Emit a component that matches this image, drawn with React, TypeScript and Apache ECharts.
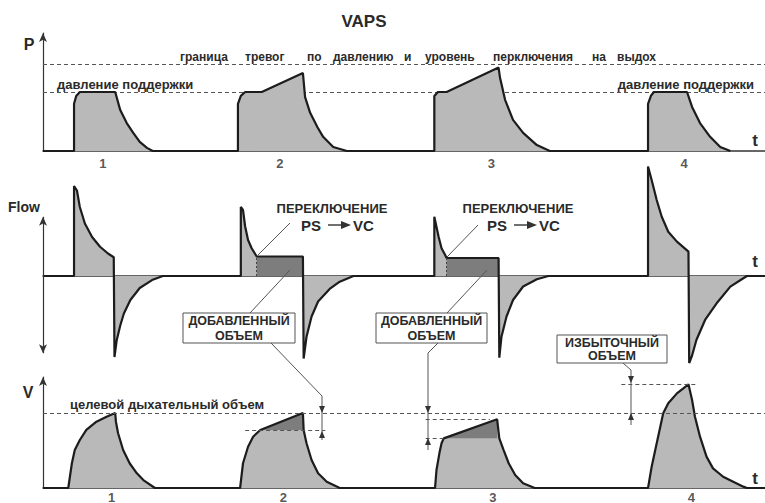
import React, { useEffect, useRef } from "react";
import * as echarts from "echarts";

// ---------- data (time in s, pressure in cmH2O, flow in L/min, volume in mL) ----------
const TIME_MIN = 0;
const TIME_MAX = 10;

const supportPressure = 15;
const alarmPressure = 22;

const pressureCycle1 = [[0.43, 0], [0.43, 12], [0.46, 14], [0.51, 15], [1.0, 15], [1.07, 10.4], [1.16, 7.1], [1.25, 4.6], [1.34, 2.3], [1.44, 0.8], [1.52, 0]];
const pressureCycle2 = [[2.7, 0], [2.7, 12], [2.74, 14], [2.8, 15], [3.03, 15], [3.6, 19.8], [3.63, 13.7], [3.7, 9.7], [3.8, 6.1], [3.88, 3.6], [4.02, 1.0], [4.21, 0]];
const pressureCycle3 = [[5.42, 0], [5.42, 14], [5.47, 15], [5.59, 15], [6.31, 21.2], [6.33, 18.6], [6.4, 13], [6.51, 7.9], [6.65, 4.6], [6.84, 1.5], [7.02, 0]];
const pressureCycle4 = [[8.38, 0], [8.38, 12], [8.42, 14], [8.46, 15], [8.92, 15], [8.99, 11.2], [9.1, 7.1], [9.24, 3.6], [9.38, 1.0], [9.52, 0]];

const flowCycle1 = [[0.43, 0], [0.43, 60], [0.47, 57], [0.51, 46], [0.58, 35], [0.68, 26], [0.79, 19.5], [0.9, 15], [0.98, 12.5], [0.99, -54], [1.02, -43], [1.07, -33], [1.12, -25], [1.21, -16], [1.34, -8], [1.51, -2.7], [1.66, 0]];
const flowCycle2 = [[2.74, 0], [2.74, 46], [2.77, 44], [2.8, 33], [2.84, 24], [2.89, 18.5], [2.96, 13], [3.6, 13], [3.61, -55], [3.65, -40.5], [3.72, -27], [3.81, -17], [3.98, -8.2], [4.11, -3.8], [4.3, 0]];
const flowCycle3 = [[5.42, 0], [5.42, 39.5], [5.44, 35], [5.48, 26], [5.52, 18.5], [5.57, 14], [5.59, 12], [6.31, 12], [6.32, -54.5], [6.35, -40.5], [6.42, -27], [6.51, -16], [6.65, -7], [6.84, -2.2], [7.0, 0]];
const flowCycle4 = [[8.38, 0], [8.38, 73], [8.43, 64], [8.5, 50.7], [8.57, 39.5], [8.66, 29.5], [8.78, 22.9], [8.94, 16.2], [8.95, -58], [8.99, -53], [9.05, -42.7], [9.17, -29.3], [9.33, -18.2], [9.52, -7.1], [9.7, -1.5], [9.75, 0]];

// volume-controlled (VC) parts of the flow: [start, end, flow]
const flowVcParts = [[2.96, 3.6, 13], [5.59, 6.31, 12]];
const flowAxisArrow = [39.5, -51.5];

const targetVolume = 500;
const volumeCycle1 = [[0.35, 0], [0.4, 165], [0.44, 253], [0.51, 320], [0.6, 387], [0.74, 442], [0.88, 475], [1.0, 500], [1.01, 442], [1.04, 365], [1.11, 253], [1.2, 165], [1.3, 98], [1.39, 53], [1.55, 0]];
const volumeCycle2 = [[2.73, 0], [2.77, 165], [2.84, 275], [2.91, 342], [3.01, 387], [3.6, 500], [3.61, 387], [3.65, 298], [3.72, 187], [3.81, 98], [3.93, 42], [4.11, 0]];
const volumeCycle3 = [[5.43, 0], [5.45, 120], [5.49, 231], [5.52, 298], [5.55, 331], [6.29, 458], [6.32, 331], [6.38, 253], [6.45, 165], [6.54, 87], [6.65, 31], [6.81, 0]];
const volumeCycle4 = [[8.38, 0], [8.43, 142], [8.48, 253], [8.54, 387], [8.59, 498], [8.66, 565], [8.78, 631], [8.94, 691], [8.99, 587], [9.03, 475], [9.1, 342], [9.19, 209], [9.28, 131], [9.42, 75], [9.56, 42], [9.7, 9], [9.75, 0]];

// added volume (dark) triangles: [start, end, lower volume, upper volume]
const addedVolumes = [[3.01, 3.6, 387, 500], [5.55, 6.29, 331, 458]];
// short dashed reference levels on the volume panel: [start, end, volume]
const volumeLevels = [[2.8, 3.91, 387], [5.3, 6.19, 458], [5.3, 5.55, 331], [8.01, 9.05, 691]];

const cycleNames = ["1", "2", "3", "4"];
const cycleTimesP = [0.83, 3.28, 6.21, 8.88];
const cycleTimesV = [0.95, 3.33, 6.23, 8.98];

// ---------- styles ----------
const FONT = "'Liberation Sans', Arial, sans-serif";
const LIGHT = "#b9b9b9";
const DARK = "#7d7d7d";
const INK = "#1c1c1c";
const TEXT = "#2a2a2a";
const GUIDE = "#555555";

const pressureTrace = [[TIME_MIN, 0], ...pressureCycle1, ...pressureCycle2, ...pressureCycle3, ...pressureCycle4];
const flowTrace = [[TIME_MIN, 0], ...flowCycle1, ...flowCycle2, ...flowCycle3, ...flowCycle4, [TIME_MAX, 0]];
const volumeTrace = [[TIME_MIN, 0], ...volumeCycle1, ...volumeCycle2, ...volumeCycle3, ...volumeCycle4, [TIME_MAX, 0]];
const flowVcTrace = flowVcParts.flatMap(([a, b, f]) => [[a, 0], [a, f], [b, f], [b, 0]]);

function text(x: number, y: number, t: string, size: number, align = "left", extra: any = {}) {
  return {
    type: "text", x, y, z: 20,
    style: { text: t, fill: TEXT, font: `bold ${size}px ${FONT}`, align, verticalAlign: "middle", ...extra },
  };
}
function poly(points: number[][], z = 20) {
  return { type: "polyline", z, shape: { points }, style: { stroke: GUIDE, lineWidth: 1, fill: null } };
}
function tri(points: number[][]) {
  return { type: "polygon", z: 21, shape: { points }, style: { fill: "#333" } };
}
const down = (x: number, y: number) => tri([[x - 3, y - 7], [x + 3, y - 7], [x, y]]);
const up = (x: number, y: number) => tri([[x - 3, y + 7], [x + 3, y + 7], [x, y]]);
function box(x: number, y: number, w: number, h: number, l1: string, l2: string) {
  return [
    { type: "rect", z: 19, shape: { x, y, width: w, height: h }, style: { fill: "#fff", stroke: GUIDE, lineWidth: 1 } },
    text(x + w / 2, y + 8, l1, 12.5, "center"),
    text(x + w / 2, y + h - 7, l2, 12.5, "center"),
  ];
}
function psvc(dx: number) {
  return [
    text(332 + dx, 208, "ПЕРЕКЛЮЧЕНИЕ", 13, "center"),
    text(301 + dx, 225, "PS", 15),
    { type: "line", z: 20, shape: { x1: 328 + dx, y1: 225, x2: 342 + dx, y2: 225 }, style: { stroke: "#222", lineWidth: 1.3 } },
    tri([[341 + dx, 221], [341 + dx, 229], [351 + dx, 225]]),
    text(353 + dx, 225, "VC", 15),
  ];
}

const alarmWords = ["граница", "тревог", "по", "давлению", "и", "уровень", "перключения", "на", "выдох"];
const alarmWordX = [180, 245, 307, 333, 404, 425, 493, 592, 617];

export default function App() {
  const ref = useRef<HTMLDivElement>(null);
  useEffect(() => {
    if (!ref.current) return;
    const chart = echarts.init(ref.current, null, { renderer: "svg" });
    const hidden = { show: false };
    const xAxisBase = (gridIndex: number) => ({
      type: "value", gridIndex, min: TIME_MIN, max: TIME_MAX,
      axisLine: { show: true, onZero: true, lineStyle: { color: "#333", width: 1.5 } },
      axisTick: hidden, axisLabel: hidden, splitLine: hidden,
    });
    const yAxisBase = (gridIndex: number, min: number, max: number, arrow: boolean) => ({
      type: "value", gridIndex, min, max,
      axisLine: arrow
        ? { show: true, onZero: false, symbol: ["none", "arrow"], symbolSize: [6, 9], lineStyle: { color: "#333", width: 1.2 } }
        : { show: false },
      axisTick: hidden, axisLabel: hidden, splitLine: hidden,
    });
    const dashed = { color: GUIDE, width: 1, type: [4, 3] };

    const labelSeries = (idx: number, times: number[], dist: number) => ({
      type: "scatter", xAxisIndex: idx, yAxisIndex: idx, symbolSize: 1, silent: true,
      itemStyle: { color: "transparent" },
      data: times.map((t, i) => ({ value: [t, 0], label: { formatter: cycleNames[i] } })),
      label: { show: true, position: "bottom", distance: dist, color: TEXT, fontSize: 13, fontWeight: "bold", fontFamily: FONT },
    });

    const option: any = {
      animation: false,
      grid: [
        { left: 43, right: 0, top: 33, height: 118 },
        { left: 43, right: 0, top: 156, height: 210 },
        { left: 43, right: 0, top: 377, height: 111 },
      ],
      xAxis: [xAxisBase(0), xAxisBase(1), xAxisBase(2)],
      yAxis: [yAxisBase(0, 0, 30, true), yAxisBase(1, -60, 80, false), yAxisBase(2, 0, 740, true)],
      series: [
        // pressure reference lines (under fill)
        {
          type: "line", xAxisIndex: 0, yAxisIndex: 0, data: [], z: 1,
          markLine: {
            silent: true, symbol: "none", z: 1, label: { show: false }, lineStyle: dashed,
            data: [{ yAxis: alarmPressure }, { yAxis: supportPressure }],
          },
        },
        {
          type: "line", xAxisIndex: 0, yAxisIndex: 0, data: pressureTrace, symbol: "none", z: 2,
          lineStyle: { width: 0 }, areaStyle: { color: LIGHT, opacity: 1 }, silent: true,
        },
        {
          type: "line", xAxisIndex: 0, yAxisIndex: 0, data: pressureTrace, symbol: "none", z: 4,
          lineStyle: { color: INK, width: 2.2 }, silent: true,
        },
        // flow
        {
          type: "line", xAxisIndex: 1, yAxisIndex: 1, data: flowTrace, symbol: "none", z: 2, clip: false,
          lineStyle: { width: 0 }, areaStyle: { color: LIGHT, opacity: 1 }, silent: true,
          markLine: {
            silent: true, symbol: ["arrow", "arrow"], symbolSize: [6, 9], label: { show: false },
            lineStyle: { color: "#333", width: 1.2, type: "solid" },
            data: [[{ coord: [TIME_MIN, flowAxisArrow[0]] }, { coord: [TIME_MIN, flowAxisArrow[1]] }]],
          },
        },
        {
          type: "line", xAxisIndex: 1, yAxisIndex: 1, data: flowVcTrace, symbol: "none", z: 3,
          lineStyle: { width: 0 }, areaStyle: { color: DARK, opacity: 1 }, silent: true,
          markLine: {
            silent: true, symbol: "none", label: { show: false },
            lineStyle: { color: "#444", width: 1, type: [2, 2] },
            data: flowVcParts.map(([a, , f]) => [{ coord: [a, 0] }, { coord: [a, f] }]),
          },
        },
        {
          type: "line", xAxisIndex: 1, yAxisIndex: 1, data: flowTrace, symbol: "none", z: 4,
          lineStyle: { color: INK, width: 2.2 }, silent: true,
        },
        // volume
        {
          type: "line", xAxisIndex: 2, yAxisIndex: 2, data: volumeTrace, symbol: "none", z: 2,
          lineStyle: { width: 0 }, areaStyle: { color: LIGHT, opacity: 1 }, silent: true,
          markLine: {
            silent: true, symbol: "none", label: { show: false }, lineStyle: dashed,
            data: [
              { yAxis: targetVolume },
              ...volumeLevels.map(([a, b, v]) => [{ coord: [a, v] }, { coord: [b, v] }]),
            ],
          },
        },
        {
          type: "custom", xAxisIndex: 2, yAxisIndex: 2, z: 3, silent: true,
          data: addedVolumes,
          encode: { x: [0, 1], y: [2, 3] },
          renderItem: (params: any, api: any) => {
            const a = api.value(0), b = api.value(1), lo = api.value(2), hi = api.value(3);
            return {
              type: "polygon",
              shape: { points: [api.coord([a, lo]), api.coord([b, hi]), api.coord([b, lo])] },
              style: { fill: DARK },
            };
          },
        },
        {
          type: "line", xAxisIndex: 2, yAxisIndex: 2, data: volumeTrace, symbol: "none", z: 4,
          lineStyle: { color: INK, width: 2.2 }, silent: true,
        },
        labelSeries(0, cycleTimesP, 5),
        labelSeries(2, cycleTimesV, 2),
      ],
      graphic: [
        text(364, 21, "VAPS", 17, "center"),
        text(29, 44, "P", 16, "center"),
        text(8, 207, "Flow", 14),
        text(28, 392, "V", 16, "center"),
        text(755, 140, "t", 17, "center"),
        text(755, 261, "t", 17, "center"),
        text(755, 478, "t", 17, "center"),
        ...alarmWords.map((w, i) => text(alarmWordX[i], 57, w, 12)),
        text(57, 84, "давление поддержки", 13),
        text(754, 84, "давление поддержки", 13, "right"),
        text(70, 404, "целевой дыхательный объем", 13),
        ...psvc(0),
        ...psvc(186),
        poly([[290, 223], [258, 255]]),
        poly([[478, 225], [447, 257]]),
        poly([[290, 270], [250, 313]]),
        poly([[271, 343], [322, 396], [322, 440]]),
        poly([[447, 313], [487, 270]]),
        poly([[438, 343], [428, 353], [428, 450]]),
        poly([[623, 363], [631, 370], [631, 425]]),
        down(322, 413), up(322, 431),
        down(428, 413), up(428, 438),
        down(631, 383), up(631, 413),
        ...box(183, 313, 112, 30, "ДОБАВЛЕННЫЙ", "ОБЪЕМ"),
        ...box(376, 313, 111, 30, "ДОБАВЛЕННЫЙ", "ОБЪЕМ"),
        ...box(557, 335, 110, 28, "ИЗБЫТОЧНЫЙ", "ОБЪЕМ"),
      ],
    };
    chart.setOption(option);
    return () => chart.dispose();
  }, []);
  return (
    <div
      ref={ref}
      style={{ position: "fixed", left: 0, top: 0, width: 765, height: 503, background: "#fff" }}
    />
  );
}
